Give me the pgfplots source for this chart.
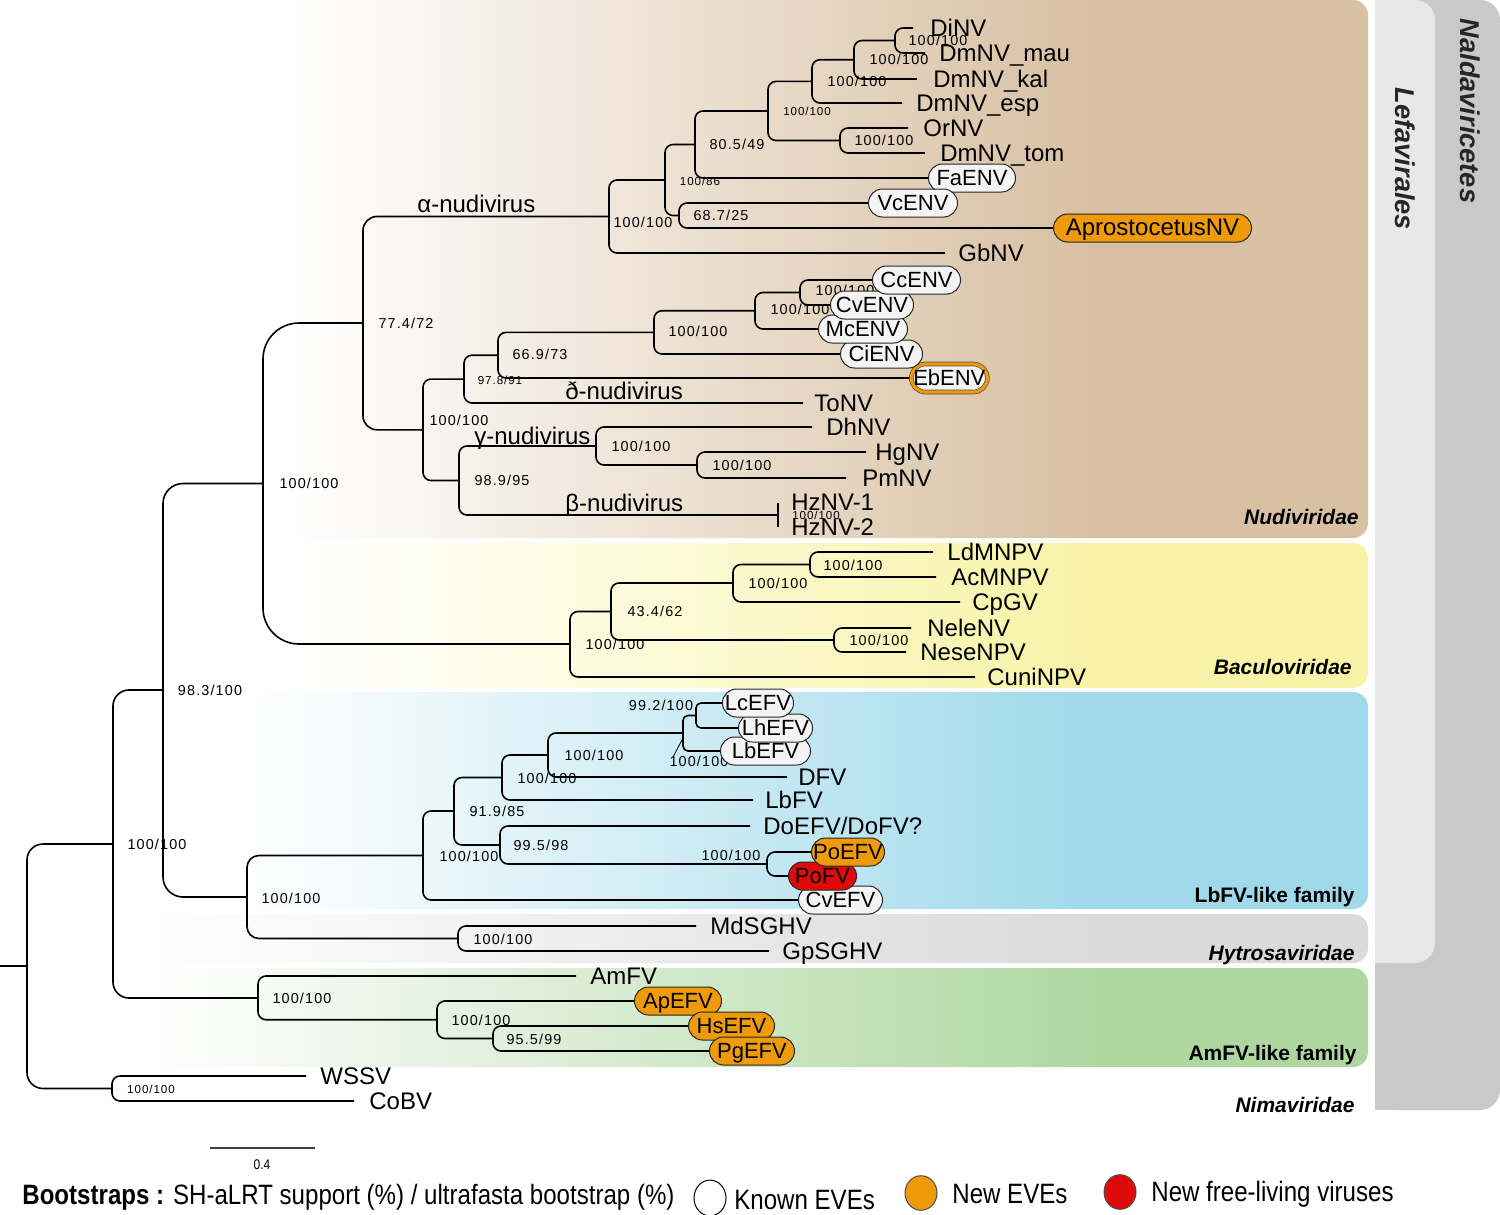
\documentclass[border=0pt]{standalone}
\usepackage{fontspec}
\setmainfont{Liberation Sans}
\newfontfamily\bsf[LetterSpace=8]{Liberation Sans}
\newfontfamily\nar[FakeStretch=0.86]{Liberation Sans}
\usepackage{pgfplots}
\pgfplotsset{compat=1.18}
\definecolor{nudi}{HTML}{D8C0A2}
\definecolor{bacu}{HTML}{F8F3A6}
\definecolor{lbfv}{HTML}{9FD9EA}
\definecolor{hytro}{HTML}{DADADA}
\definecolor{amfv}{HTML}{AED7A0}
\definecolor{lefa}{HTML}{E8E8E8}
\definecolor{nald}{HTML}{C9C9C9}
\definecolor{evew}{HTML}{F4F4F4}
\definecolor{eveo}{HTML}{EE9A0A}
\definecolor{ever}{HTML}{E10A0A}
\pgfdeclarehorizontalshading{shnudi}{100bp}{color(0bp)=(white); color(25bp)=(white); color(62.5bp)=(nudi); color(100bp)=(nudi)}
\pgfdeclarehorizontalshading{shbacu}{100bp}{color(0bp)=(white); color(25bp)=(white); color(62.5bp)=(bacu); color(100bp)=(bacu)}
\pgfdeclarehorizontalshading{shlbfv}{100bp}{color(0bp)=(white); color(25bp)=(white); color(63bp)=(lbfv); color(100bp)=(lbfv)}
\pgfdeclarehorizontalshading{shhytro}{100bp}{color(0bp)=(white); color(25bp)=(white); color(64bp)=(hytro); color(100bp)=(hytro)}
\pgfdeclarehorizontalshading{shamfv}{100bp}{color(0bp)=(white); color(25bp)=(white); color(64bp)=(amfv); color(100bp)=(amfv)}
\tikzset{
 br/.style={black, line width=0.8pt, rounded corners=4pt},
 tip/.style={font=\fontsize{12}{14}\selectfont, inner sep=0pt, text height=8.6pt, text depth=0pt, anchor=west},
 bx/.style={draw=black!85, line width=0.5pt, rounded corners=7pt, fill=evew, font=\fontsize{11}{13}\selectfont, inner sep=0pt, text height=7.9pt, text depth=0pt, minimum height=14pt, anchor=west},
 bs/.style={font=\bsf\fontsize{7.2}{8}\selectfont, inner sep=0pt, text height=5.2pt, text depth=0pt},
 bss/.style={font=\bsf\fontsize{5.8}{7}\selectfont, inner sep=0pt, text height=4.2pt, text depth=0pt},
 gl/.style={font=\bfseries\itshape\fontsize{10.5}{12}\selectfont, inner sep=0pt, text height=7.5pt, text depth=0pt, anchor=east},
 cl/.style={font=\fontsize{12}{14}\selectfont, inner sep=0pt, anchor=base west},
 lg/.style={anchor=base west, inner sep=0pt, font=\nar\fontsize{14}{16}\selectfont},
}
\begin{document}
\begin{tikzpicture}
\begin{axis}[width=750pt, height=607.5pt, scale only axis, xmin=0, xmax=1500, ymin=0, ymax=1215,
  y dir=reverse, axis lines=none, clip=false]
% ---------- bands ----------
\addplot[draw=none, fill=nald, rounded corners=10pt] coordinates {(1375,0) (1500,0) (1500,1110) (1375,1110)} -- cycle;
\addplot[draw=none, fill=nald] coordinates {(1375,1050) (1430,1050) (1430,1110) (1375,1110)} -- cycle;
\addplot[draw=none, fill=lefa, rounded corners=10pt] coordinates {(1375,0) (1435,0) (1435,963) (1375,963)} -- cycle;
\addplot[draw=none, fill=lefa] coordinates {(1375,0) (1410,0) (1410,40) (1375,40)} -- cycle;
\addplot[draw=none, fill=lefa] coordinates {(1375,920) (1410,920) (1410,963) (1375,963)} -- cycle;
\addplot[draw=none, shading=shnudi, rounded corners=7.5pt] coordinates {(290,0) (1368,0) (1368,538) (290,538)} -- cycle;
\addplot[draw=none, shading=shbacu, rounded corners=7.5pt] coordinates {(290,543) (1368,543) (1368,688) (290,688)} -- cycle;
\addplot[draw=none, shading=shlbfv, rounded corners=7.5pt] coordinates {(250,692) (1368,692) (1368,909) (250,909)} -- cycle;
\addplot[draw=none, shading=shhytro, rounded corners=7.5pt] coordinates {(150,914) (1368,914) (1368,963) (150,963)} -- cycle;
\addplot[draw=none, shading=shamfv, rounded corners=7.5pt] coordinates {(150,968) (1368,968) (1368,1067) (150,1067)} -- cycle;

% ---------- tree ----------
\addplot[br] coordinates {(913,28) (895,28) (895,53) (925,53)};
\addplot[br] coordinates {(895,40.5) (854,40.5) (854,79) (917,79)};
\addplot[br] coordinates {(854,59.75) (812,59.75) (812,103) (902,103)};
\addplot[br] coordinates {(908,128) (840,128) (840,153) (925,153)};
\addplot[br] coordinates {(812,81.4) (768,81.4) (768,140.5) (840,140.5)};
\addplot[br] coordinates {(768,111) (695,111) (695,178) (928,178)};
\addplot[br] coordinates {(868,203) (679,203) (679,228) (1053,228)};
\addplot[br] coordinates {(695,144.5) (665,144.5) (665,215.5) (679,215.5)};
\addplot[br] coordinates {(665,180) (609,180) (609,253) (945,253)};
\addplot[br] coordinates {(872,280) (800,280) (800,305) (830,305)};
\addplot[br] coordinates {(800,292.5) (755,292.5) (755,329) (818,329)};
\addplot[br] coordinates {(755,310.75) (654,310.75) (654,354) (840,354)};
\addplot[br] coordinates {(654,332.4) (498,332.4) (498,378) (910,378)};
\addplot[br] coordinates {(498,355.2) (464,355.2) (464,403) (803,403)};
\addplot[br] coordinates {(866,452) (697,452) (697,478) (846,478)};
\addplot[br] coordinates {(812,427) (596,427) (596,465) (697,465)};
\addplot[br] coordinates {(778,503) (778,527)};
\addplot[br] coordinates {(596,446) (459,446) (459,515) (778,515)};
\addplot[br] coordinates {(464,379.1) (423,379.1) (423,480.5) (459,480.5)};
\addplot[br, rounded corners=7pt] coordinates {(609,216.5) (363,216.5) (363,429.8) (423,429.8)};
\addplot[br] coordinates {(933,552) (810,552) (810,577) (936,577)};
\addplot[br] coordinates {(810,564.5) (733,564.5) (733,602) (960,602)};
\addplot[br] coordinates {(911,628) (834,628) (834,652) (906,652)};
\addplot[br] coordinates {(733,583) (611,583) (611,640) (834,640)};
\addplot[br] coordinates {(611,611.5) (570,611.5) (570,677) (975,677)};
\addplot[br, rounded corners=18pt] coordinates {(363,323) (263,323) (263,644) (570,644)};
\addplot[br, rounded corners=2.5pt] coordinates {(722,703) (696,703) (696,728) (738,728)};
\addplot[br, rounded corners=2.5pt] coordinates {(696,715.5) (683,715.5) (683,751) (720,751)};
\addplot[br] coordinates {(683,733) (548,733) (548,777) (787,777)};
\addplot[br] coordinates {(548,755) (502,755) (502,800) (753,800)};
\addplot[br] coordinates {(811,852) (767,852) (767,876) (788,876)};
\addplot[br] coordinates {(750,826) (500,826) (500,864) (767,864)};
\addplot[br] coordinates {(502,777.5) (454,777.5) (454,845) (500,845)};
\addplot[br] coordinates {(454,811) (423,811) (423,900) (798,900)};
\addplot[br] coordinates {(696,926) (458,926) (458,951) (769,951)};
\addplot[br, rounded corners=6pt] coordinates {(423,855.5) (247,855.5) (247,938.5) (458,938.5)};
\addplot[br, rounded corners=10pt] coordinates {(263,483.5) (163,483.5) (163,897) (247,897)};
\addplot[br] coordinates {(688,1026) (493,1026) (493,1051) (709,1051)};
\addplot[br] coordinates {(634,1001) (437,1001) (437,1038.5) (493,1038.5)};
\addplot[br] coordinates {(576,976) (258,976) (258,1019.75) (437,1019.75)};
\addplot[br, rounded corners=8pt] coordinates {(163,690) (113,690) (113,998) (258,998)};
\addplot[br] coordinates {(306,1076) (112,1076) (112,1101) (354,1101)};
\addplot[br, rounded corners=8pt] coordinates {(113,844) (27,844) (27,1088.5) (112,1088.5)};
\addplot[br] coordinates {(0,966) (27,966)};
\addplot[black, line width=0.4pt] coordinates {(673,757) (683,738)};
% scale bar
\addplot[black!75, line width=1.3pt] coordinates {(210,1148) (315,1148)};

% ---------- bootstrap labels ----------
\node[bs] at (938,40) {100/100};
\node[bs] at (899,59) {100/100};
\node[bs] at (857,81) {100/100};
\node[bss] at (807,111) {100/100};
\node[bs] at (884,140) {100/100};
\node[bs] at (737,144) {80.5/49};
\node[bss] at (700,181) {100/86};
\node[bs] at (721,215) {68.7/25};
\node[bs] at (643,222) {100/100};
\node[bs] at (845,290) {100/100};
\node[bs] at (800,309) {100/100};
\node[bs] at (698,331) {100/100};
\node[bs] at (540,354) {66.9/73};
\node[bss] at (500,380) {97.8/91};
\node[bs] at (459,420) {100/100};
\node[bs] at (406,323) {77.4/72};
\node[bs] at (641,446) {100/100};
\node[bs] at (742,465) {100/100};
\node[bs] at (502,480) {98.9/95};
\node[bss] at (816,515) {100/100};
\node[bs] at (309,483) {100/100};
\node[bs] at (853,565) {100/100};
\node[bs] at (778,583) {100/100};
\node[bs] at (655,611) {43.4/62};
\node[bs] at (879,640) {100/100};
\node[bs] at (615,644) {100/100};
\node[bs] at (210,690) {98.3/100};
\node[bs] at (661,705) {99.2/100};
\node[bs] at (594,755) {100/100};
\node[bs] at (699,761) {100/100};
\node[bs] at (547,778) {100/100};
\node[bs] at (497,811) {91.9/85};
\node[bs] at (541,845) {99.5/98};
\node[bs] at (469,856) {100/100};
\node[bs] at (731,855) {100/100};
\node[bs] at (291,898) {100/100};
\node[bs] at (503,939) {100/100};
\node[bs] at (157,844) {100/100};
\node[bs] at (302,998) {100/100};
\node[bs] at (481,1020) {100/100};
\node[bs] at (534,1039) {95.5/99};
\node[bss] at (151,1089) {100/100};
\node[font=\nar\fontsize{7}{8}\selectfont, inner sep=0pt] at (262,1165) {0.4};

% ---------- clade labels ----------
\node[cl] at (417,212) {α-nudivirus};
\node[cl] at (565,399) {ð-nudivirus};
\node[cl] at (474,444) {γ-nudivirus};
\node[cl] at (565,511) {β-nudivirus};

% ---------- tip labels ----------
\node[tip] at (930,28) {DiNV};
\node[tip] at (939,53) {DmNV\_mau};
\node[tip] at (933,79) {DmNV\_kal};
\node[tip] at (916,103) {DmNV\_esp};
\node[tip] at (923,128) {OrNV};
\node[tip] at (940,153) {DmNV\_tom};
\node[tip] at (958,253) {GbNV};
\node[tip] at (814,403) {ToNV};
\node[tip] at (826,427) {DhNV};
\node[tip] at (875,452) {HgNV};
\node[tip] at (862,478) {PmNV};
\node[tip] at (791,502) {HzNV-1};
\node[tip] at (791,527) {HzNV-2};
\node[tip] at (947,552) {LdMNPV};
\node[tip] at (951,577) {AcMNPV};
\node[tip] at (972,602) {CpGV};
\node[tip] at (927,628) {NeleNV};
\node[tip] at (920,652) {NeseNPV};
\node[tip] at (987,677) {CuniNPV};
\node[tip] at (798,777) {DFV};
\node[tip] at (765,800) {LbFV};
\node[tip] at (763,826) {DoEFV/DoFV?};
\node[tip] at (710,926) {MdSGHV};
\node[tip] at (782,951) {GpSGHV};
\node[tip] at (590,976) {AmFV};
\node[tip] at (320,1076) {WSSV};
\node[tip] at (369,1101) {CoBV};

% ---------- boxed labels ----------
\node[bx, minimum width=43.5pt] at (928,178) {FaENV};
\node[bx, minimum width=44.5pt] at (868,203) {VcENV};
\node[bx, fill=eveo, minimum width=99pt, font=\fontsize{12}{14}\selectfont] at (1053,228) {AprostocetusNV};
\node[bx, draw=black!70, line width=0.35pt, double=eveo, double distance=1.6pt, minimum width=38pt] at (911,378) {EbENV};
\node[bx, minimum width=41pt] at (840,354) {CiENV};
\node[bx, minimum width=44.5pt] at (818,329) {McENV};
\node[bx, minimum width=41.5pt] at (830,305) {CvENV};
\node[bx, minimum width=44pt] at (872,280) {CcENV};
\node[bx, minimum width=42pt] at (798,900) {CvEFV};
\node[bx, fill=ever, minimum width=34pt] at (788,876) {PoFV};
\node[bx, fill=eveo, minimum width=36.5pt] at (811,852) {PoEFV};
\node[bx, minimum width=45pt] at (720,751) {LbEFV};
\node[bx, minimum width=37pt] at (738,728) {LhEFV};
\node[bx, minimum width=35.5pt] at (722,703) {LcEFV};
\node[bx, fill=eveo, minimum width=43.5pt] at (634,1001) {ApEFV};
\node[bx, fill=eveo, minimum width=43pt] at (688,1026) {HsEFV};
\node[bx, fill=eveo, minimum width=42.5pt] at (709,1051) {PgEFV};

% ---------- group labels ----------
\node[gl] at (1359,517) {Nudiviridae};
\node[gl] at (1352,667) {Baculoviridae};
\node[gl, font=\bfseries\fontsize{10.5}{12}\selectfont] at (1355,895) {LbFV-like family};
\node[gl] at (1355,953) {Hytrosaviridae};
\node[gl, font=\bfseries\fontsize{10.5}{12}\selectfont] at (1357,1053) {AmFV-like family};
\node[gl] at (1355,1105) {Nimaviridae};
\node[rotate=-90, font=\bfseries\itshape\fontsize{13.6}{15}\selectfont, inner sep=0pt, text height=9.8pt, text depth=0pt, text=black!85] at (1405,159) {Lefavirales};
\node[rotate=-90, font=\bfseries\itshape\fontsize{13.6}{15}\selectfont, inner sep=0pt, text height=9.8pt, text depth=0pt, text=black!85] at (1470,111) {Naldaviricetes};

% ---------- legend ----------
\node[lg] at (22,1204) {\textbf{Bootstraps :} SH-aLRT support (\%) / ultrafasta bootstrap (\%)};
\addplot[only marks, mark=*, mark size=8pt, mark options={fill=white, draw=black, line width=0.5pt, yscale=1.12}] coordinates {(710,1198)};
\addplot[only marks, mark=*, mark size=8pt, mark options={fill=eveo, draw=black!70, line width=0.5pt, yscale=1.08}] coordinates {(921,1193)};
\addplot[only marks, mark=*, mark size=8pt, mark options={fill=ever, draw=black!70, line width=0.5pt, yscale=1.08}] coordinates {(1120,1192)};
\node[lg] at (734,1209) {Known EVEs};
\node[lg] at (952,1203) {New EVEs};
\node[lg] at (1151,1201) {New free-living viruses};
\end{axis}
\pgfresetboundingbox
\path (current axis.south west) rectangle (current axis.north east);
\end{tikzpicture}
\end{document}
